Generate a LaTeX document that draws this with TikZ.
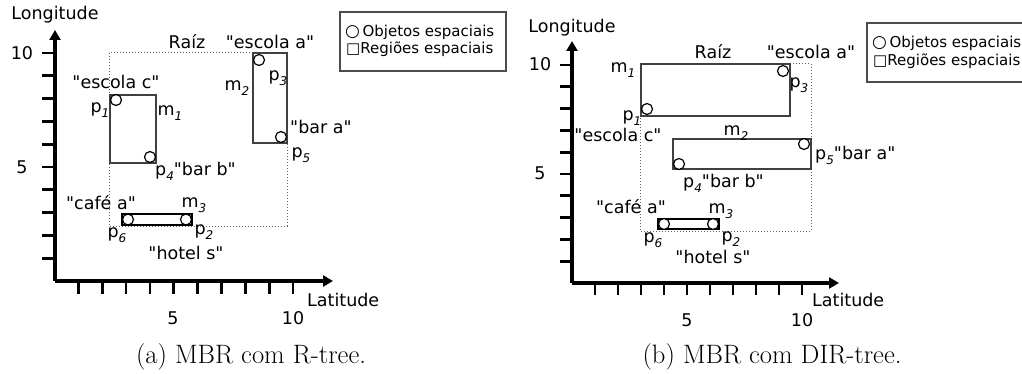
\documentclass[tikz,border=0pt]{standalone}
\usepackage{fontspec}
\newfontfamily\dv{DejaVu Sans}
\usetikzlibrary{arrows.meta}
\newcommand\sbs[1]{\raisebox{-5pt}{\fontsize{12}{12}\selectfont\itshape #1}}
\newcommand\legcirc{{\fontsize{17}{17}\selectfont○}}
\tikzset{
  axisline/.style={line width=3.2pt, -{Triangle[length=10pt,width=11pt]}},
  tickline/.style={line width=2.8pt},
  mbr/.style={draw=black!75, line width=1.1pt},
  mbrthick/.style={draw=black, line width=2.2pt},
  rootbox/.style={draw=black!60, dotted, line width=1pt},
  obj/.style={circle, draw, fill=white, minimum size=11pt, inner sep=0pt, line width=1.2pt},
  lbl/.style={font=\dv\fontsize{17.5}{20}\selectfont, inner sep=0pt},
  leg/.style={font=\dv\fontsize{15}{17}\selectfont, inner sep=0pt, anchor=west},
  legbox/.style={draw=black!70, line width=1.2pt},
  captext/.style={font=\fontsize{26.6}{30}\selectfont, inner sep=0pt},
}
\begin{document}
\begin{tikzpicture}[x=1pt,y=-1pt]
\useasboundingbox (0,0) rectangle (1022,374);
% ================= panel (a) =================
\coordinate (aO) at (55,281);
\coordinate (aYT) at (55,30);
\coordinate (aXR) at (333,281);
\draw[axisline] (aO) -- (aYT);
\draw[axisline] (aO) -- (aXR);
\foreach \k in {1,...,10}{
  \draw[tickline] (42,{281-\k*22.8}) -- (55,{281-\k*22.8});
  \draw[tickline] ({54.5+\k*23.85},281) -- ({54.5+\k*23.85},294);
}
\node[lbl] (aY10) at (22,53) {10};
\node[lbl] (aY5) at (22,167) {5};
\node[lbl] (aX5) at (173,318) {5};
\node[lbl] (aX10) at (293,318) {10};
\node[lbl] (aLon) at (55,15) {Longitude};
\node[lbl, anchor=west] (aLat) at (307,300) {Latitude};
% root
\draw[rootbox] (109,53) rectangle (287,226);
\node[lbl] (aRaiz) at (187,42) {Raíz};
% m1
\draw[mbr] (110,95) rectangle (156,163);
\node[obj] (ap1) at (116,100) {};
\node[obj] (ap4) at (150,157) {};
% m2
\draw[mbr] (253,53) rectangle (287,143);
\node[obj] (ap3) at (259,60) {};
\node[obj] (ap5) at (281,137) {};
% m3
\draw[mbrthick] (122,214) rectangle (192,225);
\node[obj] (ap6) at (128,219.5) {};
\node[obj] (ap2) at (186,219.5) {};
% labels
\node[lbl] (aesa) at (270,42) {"escola a"};
\node[lbl] (am2) at (237,88) {m\sbs{2}};
\node[lbl] (ap3l) at (278,78) {p\sbs{3}};
\node[lbl] (aesc) at (116,82) {"escola c"};
\node[lbl] (ap1l) at (100,110) {p\sbs{1}};
\node[lbl] (am1l) at (170,113) {m\sbs{1}};
\node[lbl, anchor=west] (abara) at (290,127) {"bar a"};
\node[lbl] (ap5l) at (301,155) {p\sbs{5}};
\node[lbl, anchor=west] (ap4l) at (155,171) {p\sbs{4}"bar b"};
\node[lbl] (acafe) at (101,203) {"café a"};
\node[lbl] (am3) at (194,205) {m\sbs{3}};
\node[lbl] (ap6l) at (117,235) {p\sbs{6}};
\node[lbl] (ap2l) at (204,232) {p\sbs{2}};
\node[lbl] (ahotel) at (186,253) {"hotel s"};
\node[captext] (acap) at (251,357) {(a) MBR com R-tree.};
% legend a
\draw[legbox] (340,12) rectangle (506,71);
\node[leg] (alo) at (345,32) {\legcirc\,Objetos espaciais};
\node[leg] (alr) at (346,49) {□Regiões espaciais};
% ================= panel (b) =================
\coordinate (bO) at (572,283);
\coordinate (bYT) at (572,41);
\coordinate (bXR) at (839,283);
\draw[axisline] (bO) -- (bYT);
\draw[axisline] (bO) -- (bXR);
\foreach \k in {1,...,10}{
  \draw[tickline] (560,{283-\k*21.8}) -- (572,{283-\k*21.8});
  \draw[tickline] ({572+\k*23},283) -- ({572+\k*23},295);
}
\node[lbl] (bY10) at (540,64) {10};
\node[lbl] (bY5) at (540,173) {5};
\node[lbl] (bX5) at (687,320) {5};
\node[lbl] (bX10) at (802,320) {10};
\node[lbl] (bLon) at (572,28) {Longitude};
\node[lbl, anchor=west] (bLat) at (812,300) {Latitude};
% root
\draw[rootbox] (640,64) rectangle (811,231);
\node[lbl] (bRaiz) at (713,52) {Raíz};
% m1
\draw[mbr] (641,64) rectangle (790,116);
\node[obj] (bp1) at (647,109) {};
\node[obj] (bp3) at (783,71) {};
% m2
\draw[mbr] (673,139) rectangle (811,169);
\node[obj] (bp4) at (679,164) {};
\node[obj] (bp5) at (804,144) {};
% m3
\draw[mbrthick] (658,219) rectangle (719,229);
\node[obj] (bp6) at (664,224) {};
\node[obj] (bp2) at (713,224) {};
% labels
\node[lbl] (besa) at (811,52) {"escola a"};
\node[lbl] (bm1) at (623,70) {m\sbs{1}};
\node[lbl] (bp3l) at (799,85) {p\sbs{3}};
\node[lbl] (bp1l) at (632,118) {p\sbs{1}};
\node[lbl] (besc) at (618,135) {"escola c"};
\node[lbl] (bm2) at (736,133) {m\sbs{2}};
\node[lbl, anchor=west] (bp4l) at (683,183) {p\sbs{4}"bar b"};
\node[lbl, anchor=west] (bp5l) at (815,155) {p\sbs{5}"bar a"};
\node[lbl] (bcafe) at (631,207) {"café a"};
\node[lbl] (bm3) at (721,211) {m\sbs{3}};
\node[lbl] (bp6l) at (653,240) {p\sbs{6}};
\node[lbl] (bp2l) at (731,239) {p\sbs{2}};
\node[lbl] (bhotel) at (713,257) {"hotel s"};
\node[captext] (bcap) at (772,357) {(b) MBR com DIR-tree.};
% legend b
\draw[legbox] (867,23) rectangle (1030,82);
\node[leg] (blo) at (872,43) {\legcirc\,Objetos espaciais};
\node[leg] (blr) at (873,61) {□Regiões espaciais};
\end{tikzpicture}
\end{document}
